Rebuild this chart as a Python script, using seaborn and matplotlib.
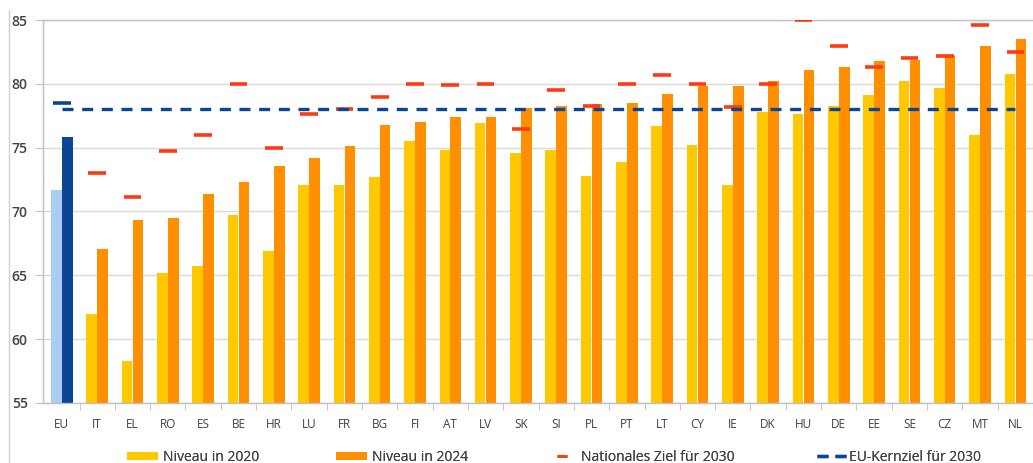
import seaborn as sns
import pandas as pd
import matplotlib.pyplot as plt
from matplotlib.patches import Patch
from matplotlib.lines import Line2D

countries = ["EU", "IT", "EL", "RO", "ES", "BE", "HR", "LU", "FR", "BG", "FI", "AT", "LV", "SK",
             "SI", "PL", "PT", "LT", "CY", "IE", "DK", "HU", "DE", "EE", "SE", "CZ", "MT", "NL"]
level_2020 = [71.7, 62.0, 58.3, 65.2, 65.7, 69.7, 66.9, 72.1, 72.1, 72.7, 75.5, 74.8, 76.9, 74.6,
              74.8, 72.8, 73.9, 76.7, 75.2, 72.1, 77.8, 77.6, 78.3, 79.1, 80.2, 79.7, 76.0, 80.8]
level_2024 = [75.8, 67.1, 69.3, 69.5, 71.4, 72.3, 73.6, 74.2, 75.1, 76.8, 77.0, 77.4, 77.4, 78.1,
              78.3, 78.4, 78.5, 79.2, 79.8, 79.8, 80.2, 81.1, 81.3, 81.8, 81.9, 82.2, 83.0, 83.5]
target_2030 = [78.5, 73.0, 71.1, 74.7, 76.0, 80.0, 75.0, 77.6, 78.0, 79.0, 80.0, 79.9, 80.0, 76.5,
               79.5, 78.3, 80.0, 80.7, 80.0, 78.2, 80.0, 85.0, 83.0, 81.3, 82.0, 82.2, 84.6, 82.5]
eu_target = 78.0

c2020 = "#FFC800"
c2024 = "#FF8F00"
c_red = "#FF3A12"
c_blue = "#0B4596"
c_lightblue = "#A9CDF3"
txt = "#404040"
grid_c = "#D9D9D9"

df = pd.DataFrame({"land": countries * 2,
                   "wert": level_2020 + level_2024,
                   "jahr": ["2020"] * len(countries) + ["2024"] * len(countries)})

sns.set_style("white")
plt.rcParams["font.family"] = ["Open Sans", "DejaVu Sans"]

fig = plt.figure(figsize=(10.33, 4.63), dpi=100)
ax = fig.add_axes([43 / 1033, 1 - 403 / 463, 1 - 43 / 1033, (403 - 20) / 463])

sns.barplot(data=df, x="land", y="wert", hue="jahr", palette=[c2020, c2024],
            width=0.62, gap=0.03, saturation=1, ax=ax, legend=False, zorder=2)

# EU bars in blue
ax.containers[0][0].set_facecolor(c_lightblue)
ax.containers[1][0].set_facecolor(c_blue)
for cont in ax.containers:
    for p in cont:
        p.set_edgecolor("none")

# national targets
xs = list(range(len(countries)))
ax.hlines(target_2030[1:], [x - 0.25 for x in xs[1:]], [x + 0.25 for x in xs[1:]],
          color=c_red, lw=2.6, zorder=4)
ax.hlines(target_2030[0], -0.25, 0.25, color=c_blue, lw=2.6, zorder=4)

# EU headline target
ax.plot([0, len(countries) - 1], [eu_target, eu_target], color=c_blue, lw=2.4,
        dashes=(3.3, 2.6), zorder=5)

ax.set_ylim(55, 85)
ax.set_xlim(-0.534, 27.31)
ax.set_yticks(range(55, 86, 5))
ax.set_xticks(xs)
ax.set_xticks([x + 0.5 for x in xs], minor=True)
ax.yaxis.grid(True, color=grid_c, lw=1, zorder=0)
ax.set_axisbelow(True)
ax.set_xlabel("")
ax.set_ylabel("")

ax.spines["right"].set_visible(False)
for s in ["left", "bottom", "top"]:
    ax.spines[s].set_color("#BFBFBF")
    ax.spines[s].set_linewidth(1)

ax.tick_params(axis="y", which="major", length=5, color="#BFBFBF", labelsize=10,
               labelcolor=txt, pad=6, direction="out", left=True)
ax.tick_params(axis="x", which="major", length=0, labelsize=8.5, labelcolor=txt, pad=11)
ax.tick_params(axis="x", which="minor", length=5, color="#BFBFBF", direction="out", bottom=True)
for lab in ax.get_yticklabels():
    lab.set_fontweight("semibold")

# thin frame line at left like the screenshot
fig.add_artist(Line2D([9 / 1033, 9 / 1033], [0, 1 - 10 / 463], color="#D0D0D0", lw=1))

# legend entries placed one by one
entries = [
    (Patch(facecolor=c2020, edgecolor="none"), "Niveau in 2020", 127 / 1033, 2.2, 0.4),
    (Patch(facecolor=c2024, edgecolor="none"), "Niveau in 2024", 336 / 1033, 2.2, 0.4),
    (Line2D([], [], color=c_red, marker="_", markersize=7, mew=2, ls="none"),
     "Nationales Ziel für 2030", 548 / 1033, 2.0, 0.4),
    (Line2D([], [], color=c_blue, lw=2.4, dashes=(3.3, 2.1)),
     "EU-Kernziel für 2030", 817 / 1033, 2.1, 0.2),
]
for h, lab, x0, hl, tp in entries:
    leg = fig.legend([h], [lab], loc="center left", bbox_to_anchor=(x0, 0.012),
                     frameon=False, fontsize=10, handlelength=hl, handleheight=0.6,
                     handletextpad=tp, labelcolor=txt, borderpad=0, borderaxespad=0)
    fig.add_artist(leg)

fig.savefig("out.png", dpi=100)
